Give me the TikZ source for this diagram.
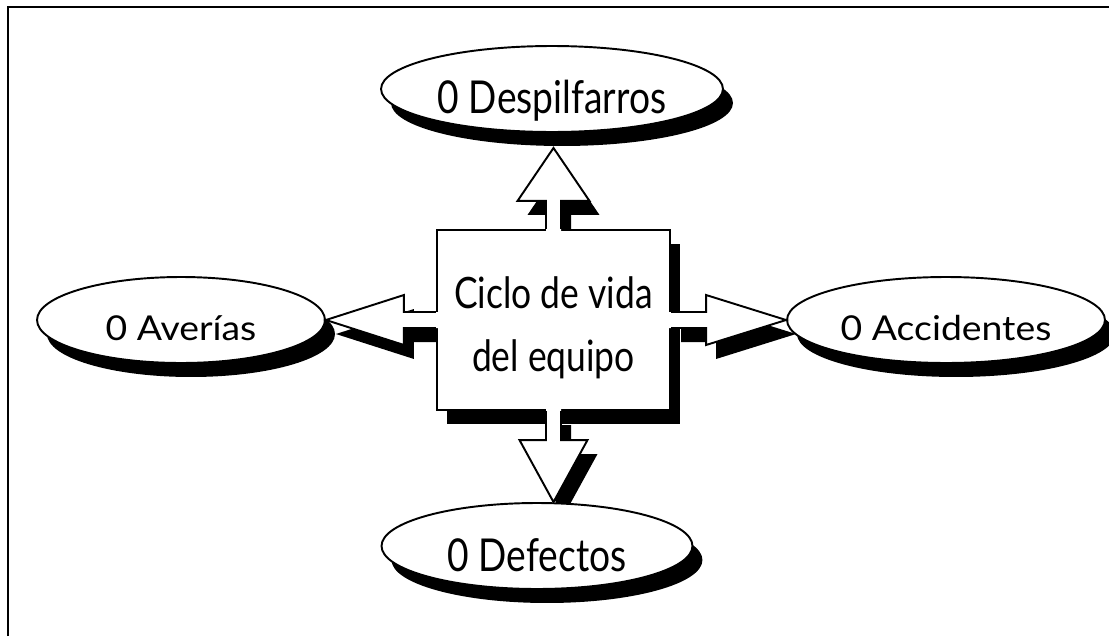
\documentclass[tikz,border=0pt]{standalone}
\usepackage{fontspec}
\newfontfamily\widefont[FakeStretch=1.09]{Lato}
\newfontfamily\tallfont[FakeStretch=0.82]{Lato}
\usetikzlibrary{calc,shapes.geometric,shadows}
\pgfdeclarelayer{shadowlayer}
\pgfsetlayers{shadowlayer,main}

% block arrow: from, tip, shaft half width, head half width, head length
\newcommand{\blockarrow}[5]{%
  \coordinate (hb) at ($(#2)!#5!(#1)$);
  \coordinate (ab) at ($(#1)!-2pt!(#2)$);
  \begin{pgfonlayer}{shadowlayer}
    \fill[black,transform canvas={shift={(0.2cm,-0.28cm)}}] ($(#1)!#3!90:(#2)$) -- ($(hb)!#3!90:(#2)$) -- ($(hb)!#4!90:(#2)$) -- (#2) -- ($(hb)!#4!-90:(#2)$) -- ($(hb)!#3!-90:(#2)$) -- ($(#1)!#3!-90:(#2)$) -- cycle;
  \end{pgfonlayer}
  \fill[white] ($(ab)!#3!90:(#2)$) -- ($(hb)!#3!90:(#2)$) -- ($(hb)!#4!90:(#2)$) -- (#2) -- ($(hb)!#4!-90:(#2)$) -- ($(hb)!#3!-90:(#2)$) -- ($(ab)!#3!-90:(#2)$) -- cycle;
  \draw[arrow line] ($(#1)!#3!90:(#2)$) -- ($(hb)!#3!90:(#2)$) -- ($(hb)!#4!90:(#2)$) -- (#2) -- ($(hb)!#4!-90:(#2)$) -- ($(hb)!#3!-90:(#2)$) -- ($(#1)!#3!-90:(#2)$);
}

\begin{document}
\begin{tikzpicture}[x=0.02cm,y=-0.02cm,
		black shadow/.style={drop shadow={shadow xshift=0.2cm,shadow yshift=-0.28cm,opacity=1,fill=black}},
		goal/.style={ellipse,draw,fill=white,line width=1.1pt,inner sep=0pt,
			minimum height=1.72cm,text depth=0pt,black shadow},
		side goal/.style={goal,text height=0.8cm,font=\widefont\fontsize{19.5}{24}\selectfont},
		end goal/.style={goal,text height=1cm,font=\tallfont\fontsize{25.8}{30}\selectfont},
		life box/.style={rectangle,draw,fill=white,line width=1.2pt,
			minimum width=4.66cm,minimum height=3.6cm,align=center,black shadow,
			text height=2.08cm,text depth=0pt,
			font=\tallfont\fontsize{24.6}{36.4}\selectfont},
		arrow line/.style={line width=1.1pt,line join=miter}]
		\useasboundingbox (0,0) rectangle (1109,636);
		\draw[line width=1.4pt] (8,636) -- (8,7) -- (1109,7);
		
		\node[life box] (box) at (553.5,320) {Ciclo de vida\\del equipo};
		\node[end goal,minimum width=6.84cm] (desp) at (552,89) {0 Despilfarros};
		\node[side goal,minimum width=5.76cm] (aver) at (181,320) {0 Averías};
		\node[side goal,minimum width=6.36cm] (acc) at (946,320) {0 Accidentes};
		\node[end goal,minimum width=6.22cm] (def) at (537,546) {0 Defectos};
		
		\coordinate (up tip) at ($(box.north |- desp.south)+(0,15)$);
		\coordinate (down tip) at (box.south |- def.north);
		
		\blockarrow{box.north}{up tip}{0.15cm}{0.72cm}{1.06cm}
		\blockarrow{box.south}{down tip}{0.15cm}{0.68cm}{1.24cm}
		\blockarrow{box.west}{aver.east}{0.16cm}{0.5cm}{1.56cm}
		\blockarrow{box.east}{acc.west}{0.16cm}{0.5cm}{1.6cm}
\end{tikzpicture}
\end{document}
